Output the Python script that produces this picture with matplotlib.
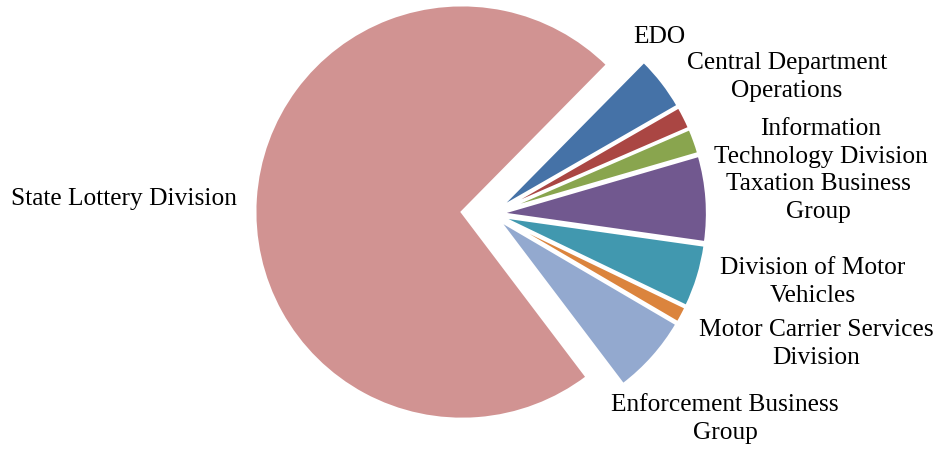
import matplotlib
matplotlib.use("Agg")
import matplotlib.pyplot as plt

# Data
categories = ["EDO", "Central Department\nOperations", "Information\nTechnology Division",
              "Taxation Business\nGroup", "Division of Motor\nVehicles",
              "Motor Carrier Services\nDivision", "Enforcement Business\nGroup",
              "State Lottery Division"]
values = [4.3, 1.8, 2.0, 6.75, 4.9, 1.3, 6.25, 72.7]

colors = ["#4572A7", "#AA4643", "#89A54E", "#71588F", "#4198AF", "#DB843D", "#93A9CF", "#D19392"]
explode = [0.04, 0.04, 0.04, 0.04, 0.04, 0.04, 0.04, 0.145]

W, H = 941, 450
cx, cy, R = 492, 214, 207  # pie centre / radius in pixels

fig = plt.figure(figsize=(W / 100, H / 100), dpi=100)
ax = fig.add_axes([0, 0, 1, 1])
ax.pie(values, colors=colors, explode=explode, startangle=45.4, counterclock=False,
       wedgeprops=dict(edgecolor="white", linewidth=2))
ax.set_xlim(-cx / R, (W - cx) / R)
ax.set_ylim(-(H - cy) / R, cy / R)
ax.set_aspect("auto")
ax.axis("off")

# label centres in pixels
label_pos = [(659, 37), (787, 77), (821, 143), (818, 198), (813, 282),
             (816, 344), (725, 419), (124, 199)]
for lab, (px, py) in zip(categories, label_pos):
    fig.text(px / W, 1 - py / H, lab, ha="center", va="center", multialignment="center",
             fontsize=18.3, family=["Liberation Serif", "DejaVu Serif"], color="black",
             linespacing=1.4)

fig.savefig("out.png", dpi=100, facecolor="white")
